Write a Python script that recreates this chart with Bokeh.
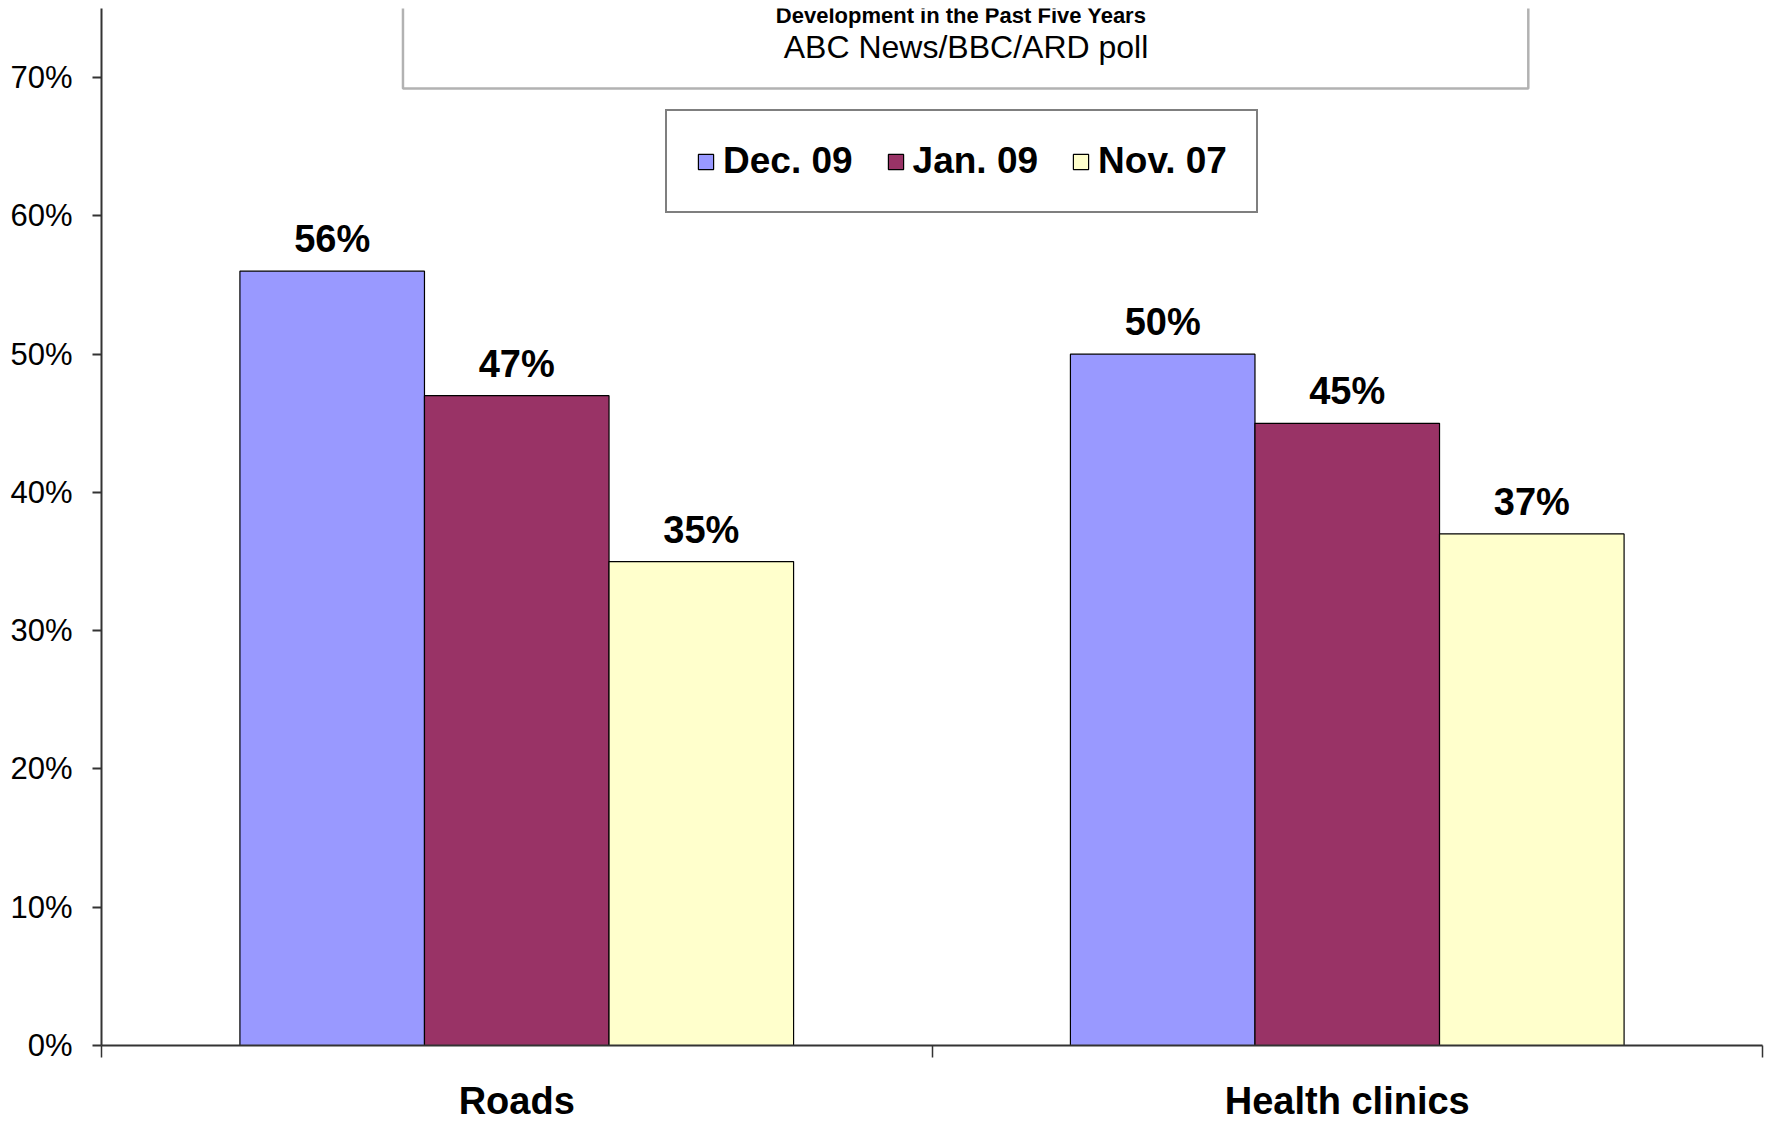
from bokeh.plotting import figure
from bokeh.models import (ColumnDataSource, FixedTicker, NumeralTickFormatter, Legend,
                          LegendItem, BoxAnnotation, Label, Range1d)
from bokeh.core.properties import value
from bokeh.embed import file_html
from bokeh.resources import INLINE

# ---- data ----
categories = ["Roads", "Health clinics"]
series_names = ["Dec. 09", "Jan. 09", "Nov. 07"]
dec09 = [0.56, 0.50]
jan09 = [0.47, 0.45]
nov07 = [0.35, 0.37]
y_ticks = [0.0, 0.1, 0.2, 0.3, 0.4, 0.5, 0.6, 0.7]
title_text = "Development in the Past Five Years"
subtitle_text = "ABC News/BBC/ARD poll"

colors = ["#9999FF", "#993366", "#FFFFCC"]
FONT = "Liberation Sans"

bar_w = 1 / 4.5
offsets = [-bar_w, 0.0, bar_w]
n = len(categories)
Y_TOP = 0.75

p = figure(width=1768, height=1124, x_range=Range1d(0, n), y_range=Range1d(0, Y_TOP),
           output_backend="svg", toolbar_location=None,
           min_border_left=101, min_border_right=6, min_border_top=8, min_border_bottom=78)
p.xgrid.visible = False
p.ygrid.visible = False
p.outline_line_color = None
p.background_fill_color = "white"
p.border_fill_color = "white"

legend_items = []
for i, (name, vals, color) in enumerate(zip(series_names, [dec09, jan09, nov07], colors)):
    xs = [c + 0.5 + offsets[i] for c in range(n)]
    src = ColumnDataSource(dict(x=xs, top=vals, label=[f"{round(v * 100)}%" for v in vals]))
    r = p.vbar(x="x", top="top", bottom=0, width=bar_w, source=src,
               fill_color=color, line_color="black", line_width=1.2)
    p.text(x="x", y="top", text="label", source=src, text_align="center",
           text_baseline="middle", y_offset=-32, text_font=value(FONT),
           text_font_style="bold", text_font_size="38px", text_color="black")
    legend_items.append(LegendItem(label=name, renderers=[r]))

# y axis
yax = p.yaxis[0]
yax.ticker = FixedTicker(ticks=y_ticks, minor_ticks=[])
yax.formatter = NumeralTickFormatter(format="0%")
yax.major_label_text_font = FONT
yax.major_label_text_font_size = "31px"
yax.major_label_text_color = "black"
yax.major_tick_out = 9
yax.major_tick_in = 0
yax.major_tick_line_color = "#333333"
yax.major_tick_line_width = 2
yax.axis_line_color = "#333333"
yax.axis_line_width = 2
yax.major_label_standoff = 20

# x axis
centers = [c + 0.5 for c in range(n)]
xax = p.xaxis[0]
xax.ticker = FixedTicker(ticks=centers, minor_ticks=list(range(n + 1)))
xax.major_label_overrides = {c: lab for c, lab in zip(centers, categories)}
xax.major_tick_line_color = None
xax.major_tick_out = 0
xax.major_tick_in = 0
xax.minor_tick_out = 12
xax.minor_tick_in = 0
xax.minor_tick_line_color = "#333333"
xax.minor_tick_line_width = 1.5
xax.axis_line_color = "#333333"
xax.axis_line_width = 2
xax.major_label_text_font = FONT
xax.major_label_text_font_style = "bold"
xax.major_label_text_font_size = "38px"
xax.major_label_text_color = "black"
xax.major_label_standoff = 22

# title box (data units of the plot)
box = BoxAnnotation(left=0.363, right=1.718, bottom=0.6922, top=0.95,
                    fill_color="white", fill_alpha=1.0, line_color="black", line_width=2.5)
p.add_layout(box)
p.add_layout(Label(x=1.035, y=0.7449, text=title_text, text_align="center",
                   text_baseline="middle", text_font=FONT, text_font_style="bold",
                   text_font_size="22px", text_color="black"))
p.add_layout(Label(x=1.041, y=0.7225, text=subtitle_text, text_align="center",
                   text_baseline="middle", text_font=FONT, text_font_size="32px",
                   text_color="black"))

legend = Legend(items=legend_items, location=(564, 832), orientation="horizontal",
                label_text_font=FONT, label_text_font_style="bold",
                label_text_font_size="37px", label_text_color="black",
                glyph_width=19, glyph_height=19, label_standoff=8, spacing=33,
                padding=29, margin=0, border_line_color="black", border_line_width=2,
                background_fill_color="white", background_fill_alpha=1.0)
p.add_layout(legend)

open("out.html", "w").write(file_html(p, INLINE))
